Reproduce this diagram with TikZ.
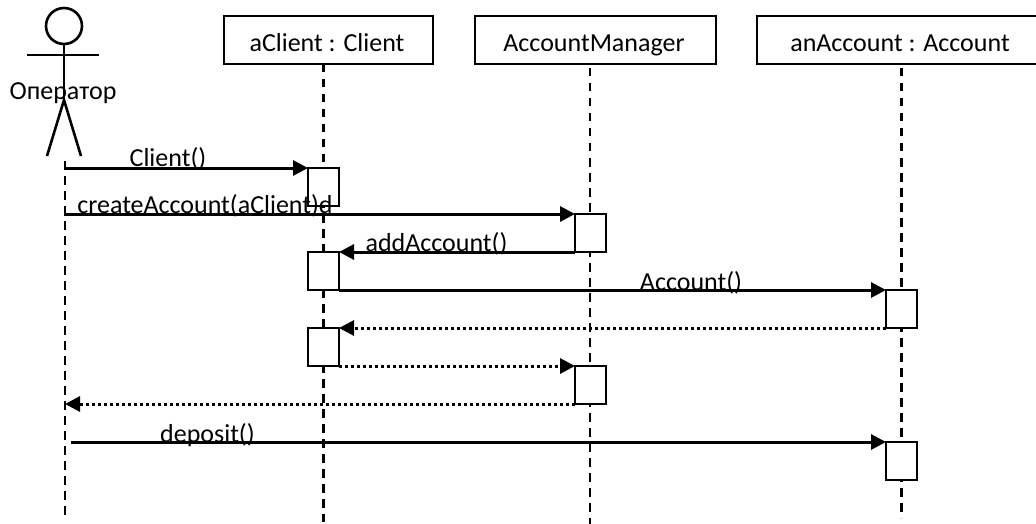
\documentclass[tikz,border=0pt]{standalone}
\usepackage{fontspec}
\setmainfont{Carlito}
\usetikzlibrary{arrows.meta}
\tikzset{
  x=1pt,y=-1pt,
  every node/.style={font=\fontsize{26}{30}\selectfont,text=black,outer sep=0pt},
  objbox/.style={draw,line width=2.4pt,fill=white,minimum height=48pt,inner sep=0pt,anchor=north west,text height=24pt,text depth=0pt},
  act/.style={draw,line width=2.4pt,fill=white,minimum width=31pt,minimum height=38pt,inner sep=0pt,anchor=north west},
  life/.style={line width=2.6pt,dash pattern=on 8.5pt off 6.5pt},
  msg/.style={line width=3pt,-{Triangle[length=15pt,width=15pt]}},
  ret/.style={line width=3pt,dash pattern=on 3pt off 3pt,-{Triangle[length=15pt,width=15pt]}},
  lbl/.style={inner sep=0pt,anchor=base},
  fig/.style={line width=2.6pt}
}
\begin{document}
\begin{tikzpicture}
\useasboundingbox (0,0) rectangle (1036,524);
% objects
\node[objbox,minimum width=209pt] (o1) at (224,16) {\kern-3pt aClient : Client};
\node[objbox,minimum width=241pt] (o2) at (475,16) {\kern-3pt AccountManager};
\node[objbox,minimum width=286pt] (o3) at (757,16) {anAccount : Account};
% lifeline ends
\coordinate (s0) at (65,161);
\coordinate (e0) at (65,518);
\coordinate (t1) at (323.5,64);
\coordinate (e1) at (323.5,522);
\coordinate (t2) at (590,68);
\coordinate (e2) at (590,524);
\coordinate (t3) at (901.5,68);
\coordinate (e3) at (901.5,518);
\draw[life] (s0) -- (e0);
\draw[life] (t1) -- (e1);
\draw[life] (t2) -- (e2);
\draw[life] (t3) -- (e3);
% actor
\node[circle,draw,line width=2.6pt,minimum size=36pt,inner sep=0pt] (head) at (64,26) {};
\coordinate (armL) at (27,55);
\coordinate (armR) at (99,55);
\coordinate (hip) at (64,100);
\coordinate (legL) at (47,156);
\coordinate (legR) at (81,156);
\draw[fig] (armL) -- (armR);
\draw[fig] (head.south) -- (hip);
\draw[fig] (legL) -- (hip) -- (legR);
% activations
\node[act] (a1) at (308,168) {};
\node[act] (a2) at (575,214) {};
\node[act] (a3) at (308,252) {};
\node[act] (a4) at (886,290) {};
\node[act] (a5) at (308,328) {};
\node[act] (a6) at (575,366) {};
\node[act] (a7) at (886,442) {};
% messages
\coordinate (m1) at (64,168);
\coordinate (m2) at (64,214);
\coordinate (m3) at (65,404);
\coordinate (m4) at (71,442);
\draw[msg] (m1) -- (a1.north west);
\draw[msg] (m2) -- (a2.north west);
\draw[msg] (a2.south west) -- (a3.north east);
\draw[msg] (a3.south east) -- (a4.north west);
\draw[ret] (a4.south west) -- (a5.north east);
\draw[ret] (a5.south east) -- (a6.north west);
\draw[ret] (a6.south west) -- (m3);
\draw[msg] (m4) -- (a7.north west);
% labels
\node[lbl] (n0) at (63,100) {Оператор};
\node[lbl] (n1) at (168,167) {Client()};
\node[lbl] (n2) at (205,213) {createAccount(aClient)d};
\node[lbl] (n3) at (436.5,251) {addAccount()};
\node[lbl] (n4) at (691,290) {Account()};
\node[lbl] (n5) at (207.5,442) {deposit()};
\end{tikzpicture}
\end{document}
